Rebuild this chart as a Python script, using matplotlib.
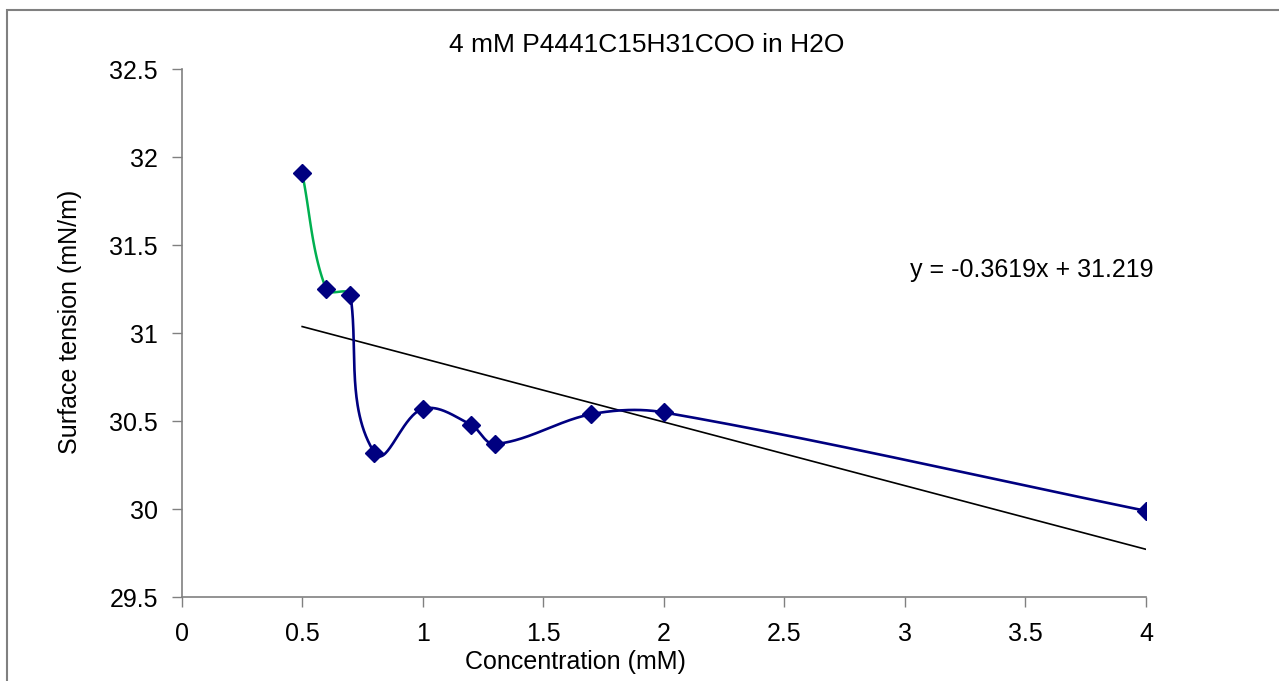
import matplotlib.pyplot as plt
import numpy as np
from matplotlib.patches import Rectangle

plt.rcParams['font.family'] = ['Liberation Sans', 'DejaVu Sans']

conc = [0.5, 0.6, 0.7, 0.8, 1.0, 1.2, 1.3, 1.7, 2.0, 4.0]
tension = [31.91, 31.25, 31.22, 30.32, 30.57, 30.48, 30.37, 30.54, 30.55, 29.99]
slope, intercept = -0.3619, 31.219
x_ticks = [0, 0.5, 1, 1.5, 2, 2.5, 3, 3.5, 4]
y_ticks = [29.5, 30, 30.5, 31, 31.5, 32, 32.5]
x_tick_labels = ["0", "0.5", "1", "1.5", "2", "2.5", "3", "3.5", "4"]
y_tick_labels = ["29.5", "30", "30.5", "31", "31.5", "32", "32.5"]


def smooth(ax, xs, ys, n=60):
    # smoothed line like excel: bezier in screen space, control arms scaled by chord length
    pts = ax.transData.transform(np.column_stack([xs, ys]))
    m = len(pts)
    tang = []
    for i in range(m):
        a = pts[max(i - 1, 0)]
        b = pts[min(i + 1, m - 1)]
        tang.append((b - a) / (np.linalg.norm(b - a) + 1e-9))
    out = []
    for i in range(m - 1):
        p1, p2 = pts[i], pts[i + 1]
        L = np.linalg.norm(p2 - p1)
        c1 = p1 + tang[i] * L / 3
        c2 = p2 - tang[i + 1] * L / 3
        t = np.linspace(0, 1, n)[:, None]
        seg = ((1 - t) ** 3) * p1 + 3 * ((1 - t) ** 2) * t * c1 + 3 * (1 - t) * t ** 2 * c2 + t ** 3 * p2
        out.append(seg)
    out = np.vstack(out)
    d = ax.transData.inverted().transform(out)
    return d[:, 0], d[:, 1]


fig = plt.figure(figsize=(12.79, 6.81), dpi=100)
ax = fig.add_axes([0.142, 0.1233, 0.754, 0.7747])
ax.set_xlim(0, 4)
ax.set_ylim(29.5, 32.5)

gx, gy = smooth(ax, conc, tension)
keep = gx <= conc[2]
ax.plot(gx[keep], gy[keep], color='#00b050', lw=1.8, zorder=2)
bx, by = smooth(ax, conc[2:], tension[2:])
ax.plot(bx, by, color='#000080', lw=1.9, zorder=3)
ax.plot(conc, tension, ls='none', marker='D', ms=9, color='#000080', zorder=4)

tx = np.array([conc[0], conc[-1]])
ax.plot(tx, slope * tx + intercept, color='black', lw=1.2, zorder=2)
ax.text(3.02, 31.36, f"y = {slope}x + {intercept}", fontsize=18, ha='left', va='center')

ax.set_xticks(x_ticks)
ax.set_xticklabels(x_tick_labels)
ax.set_yticks(y_ticks)
ax.set_yticklabels(y_tick_labels)
ax.tick_params(axis='both', direction='out', length=7, width=1, color='#808080', labelsize=18)
ax.tick_params(axis='x', pad=11)
ax.tick_params(axis='y', pad=10)
for s in ['top', 'right']:
    ax.spines[s].set_visible(False)
for s in ['left', 'bottom']:
    ax.spines[s].set_color('#808080')
    ax.spines[s].set_linewidth(1.2)

fig.text(0.506, 0.934, "4 mM P4441C15H31COO in H2O", fontsize=19, ha='center', va='center')
fig.text(0.450, 0.028, "Concentration (mM)", fontsize=18, ha='center', va='center')
fig.text(0.055, 0.527, "Surface tension (mN/m)", fontsize=18, ha='center', va='center', rotation=90)

fig.patches.append(Rectangle((7 / 1279, -0.1), 1.2, 1.1 - 10 / 681, transform=fig.transFigure,
                             fill=False, edgecolor='#808080', lw=1.5))

fig.savefig("out.png", dpi=100)
